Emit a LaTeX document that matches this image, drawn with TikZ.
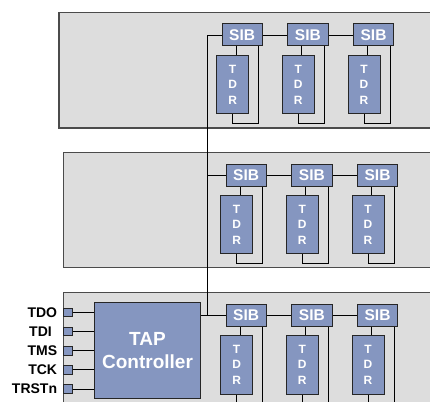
\documentclass[tikz,border=0pt]{standalone}
\usepackage{fontspec}
\setmainfont{Liberation Sans}
\usetikzlibrary{calc}

\definecolor{panelgray}{RGB}{221,221,221}
\definecolor{framegray}{RGB}{75,75,75}
\definecolor{boxblue}{RGB}{133,150,192}

\tikzset{
  panel/.style={draw=framegray, fill=panelgray, line width=1.3pt},
  blk/.style={draw=black!85, fill=boxblue, text=white, line width=1pt, inner sep=0pt},
  sib/.style={blk, minimum width=40.3pt, minimum height=22pt, font=\bfseries\fontsize{15.5}{15.5}\selectfont},
  tdr/.style={blk, minimum width=32pt, minimum height=58.4pt, align=center, font=\bfseries\fontsize{12}{15.6}\selectfont},
  tapbox/.style={blk, minimum width=106.4pt, minimum height=96.4pt, align=center, font=\bfseries\fontsize{19}{23}\selectfont},
  pin/.style={blk, minimum width=9pt, minimum height=8.5pt, line width=0.9pt},
  pinlabel/.style={anchor=east, inner sep=0pt, font=\bfseries\fontsize{14}{14}\selectfont},
  wire/.style={black, line width=0.8pt}
}

\begin{document}
\begin{tikzpicture}[x=1pt,y=-1pt]
 \useasboundingbox (0,0) rectangle (430,401);

 %panels
 \draw[panel] (59,12.7) rectangle (440,128);
 \draw[panel] (63.3,152.3) rectangle (440,267.7);
 \draw[panel] (63.3,292.3) rectangle (440,412);

 %levels 1-3
 \foreach \r/\dx/\dy in {1/222/24, 2/226/164, 3/226/304.3} {
   \foreach \k in {1,2,3} {
     \node[sib] (sib\r\k) at (\dx+20.15+\k*65.7-65.7, \dy+11) {SIB};
     \node[tdr] (tdr\r\k) at (\dx+10.6+\k*65.7-65.7, \dy+60.5) {T\\D\\R};
     \path (tdr\r\k.north) ++(3.4,0) coordinate (up\r\k);
     \path (sib\r\k.south east) ++(-4.2,0) coordinate (back\r\k);
     \path (tdr\r\k.south) ++(0,9.2) coordinate (low\r\k);
     \draw[wire] (up\r\k) -- (up\r\k |- sib\r\k.south);
     \draw[wire] (tdr\r\k.south) -- (low\r\k) -| (back\r\k);
   }
   \draw[wire] (sib\r1) -- (sib\r2) -- (sib\r3);
 }

 %tap controller
 \node[tapbox] (tap) at (147.5,350.5) {TAP\\Controller};

 \foreach \i/\name/\lx in {0/TDO/57.3, 1/TDI/52, 2/TMS/57.3, 3/TCK/57.3, 4/TRSTn/57.3} {
   \node[pin] (pin\i) at (67.8, 312.4+\i*19.15) {};
   \node[pinlabel] (lbl\i) at (\lx, 312.4+\i*19.15) {\name};
   \draw[wire] (pin\i) -- (pin\i -| tap.west);
 }

 %bus
 \coordinate (bus) at (207.3,0);
 \draw[wire] (sib11.west) -| (bus |- sib31.west);
 \draw[wire] (bus |- sib21.west) -- (sib21.west);
 \draw[wire] (tap.east |- sib31.west) -- (sib31.west);

\end{tikzpicture}
\end{document}
